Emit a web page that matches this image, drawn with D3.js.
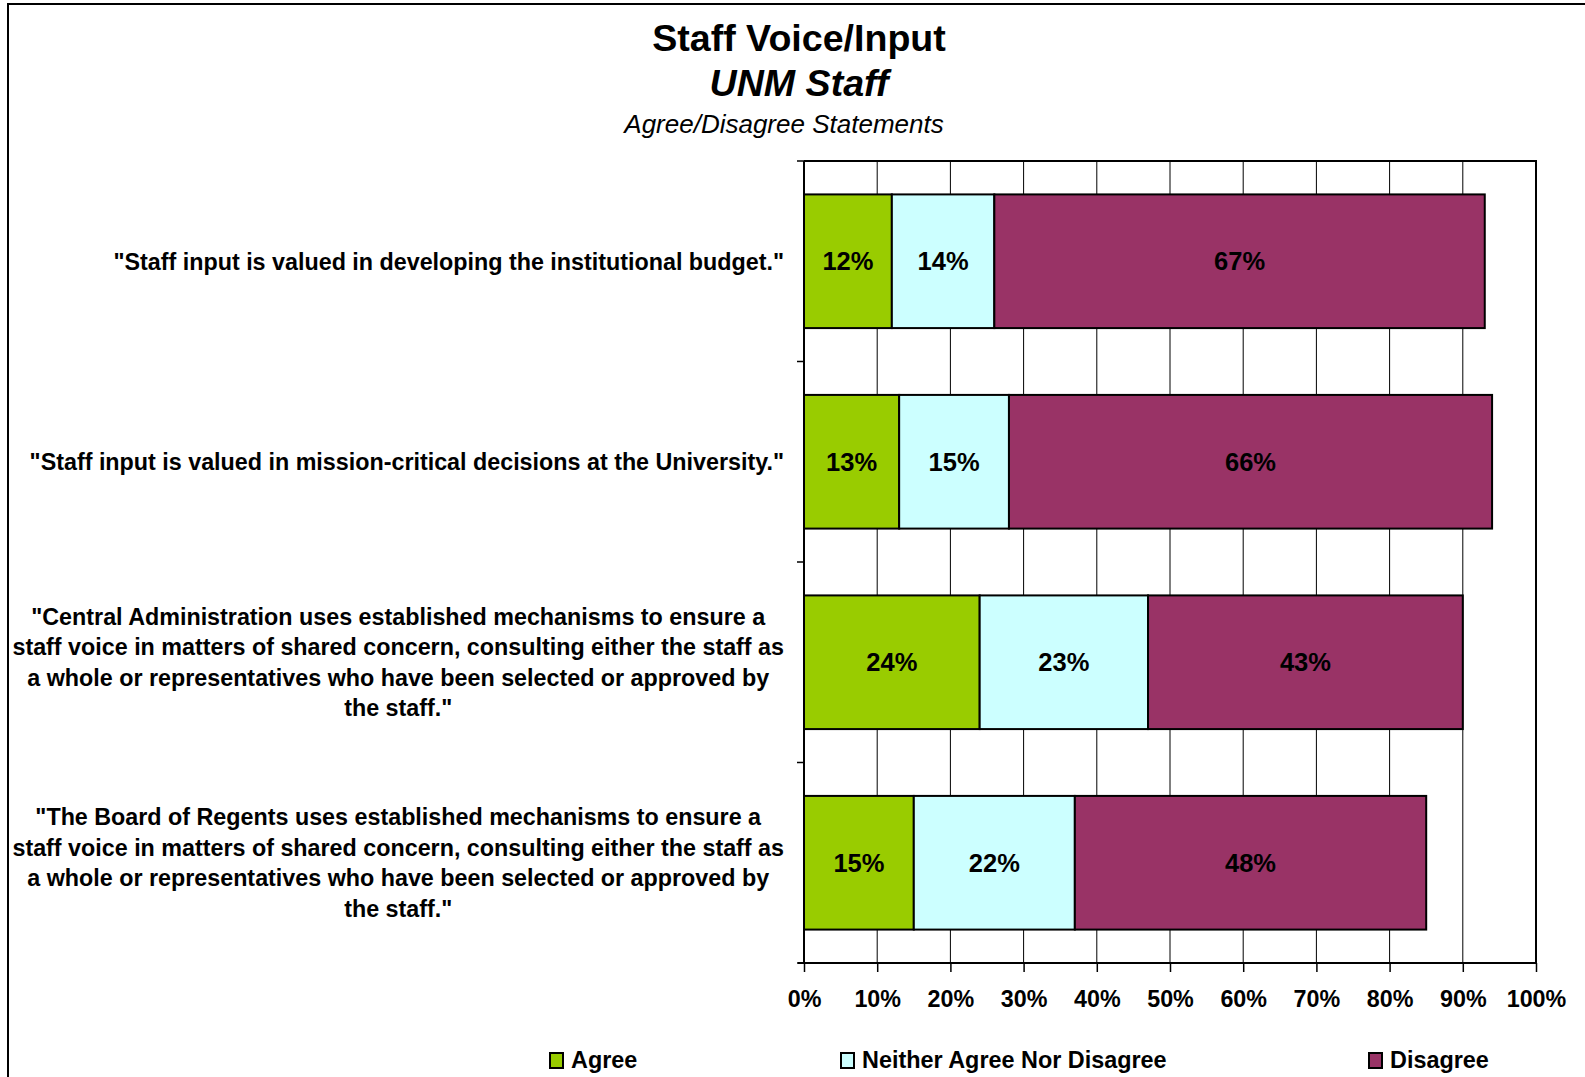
<!DOCTYPE html>
<html>
<head>
<meta charset="utf-8">
<script src="https://cdn.jsdelivr.net/npm/d3@7"></script>
<style>
  body { margin: 0; background: #fff; }
  svg { display: block; font-family: "Liberation Sans", Arial, sans-serif; }
</style>
</head>
<body>
<svg id="chart" width="1585" height="1077"></svg>
<script>
// data
var statements = [
  ['"Staff input is valued in developing the institutional budget."'],
  ['"Staff input is valued in mission-critical decisions at the University."'],
  ['"Central Administration uses established mechanisms to ensure a',
   'staff voice in matters of shared concern, consulting either the staff as',
   'a whole or representatives who have been selected or approved by',
   'the staff."'],
  ['"The Board of Regents uses established mechanisms to ensure a',
   'staff voice in matters of shared concern, consulting either the staff as',
   'a whole or representatives who have been selected or approved by',
   'the staff."']
];
var seriesNames = ['Agree', 'Neither Agree Nor Disagree', 'Disagree'];
var agree    = [12, 13, 24, 15];
var neither  = [14, 15, 23, 22];
var disagree = [67, 66, 43, 48];
var xTicks = [0, 10, 20, 30, 40, 50, 60, 70, 80, 90, 100];

var colors = ['#99cc00', '#ccffff', '#993366'];

var svg = d3.select('#chart');
var width = 1585, height = 1077;
var plotL = 804, plotR = 1536, plotT = 161, plotB = 963;

// frame of the chart area
svg.append('path')
    .attr('d', 'M8,' + height + 'V4H' + width)
    .attr('fill', 'none').attr('stroke', '#000').attr('stroke-width', 2);

// titles
svg.append('text').attr('x', 799).attr('y', 51).attr('text-anchor', 'middle')
    .attr('font-size', 37.6).attr('font-weight', 'bold').text('Staff Voice/Input');
svg.append('text').attr('x', 799).attr('y', 96).attr('text-anchor', 'middle')
    .attr('font-size', 37.6).attr('font-weight', 'bold').attr('font-style', 'italic').text('UNM Staff');
svg.append('text').attr('x', 784).attr('y', 133).attr('text-anchor', 'middle')
    .attr('font-size', 26).attr('font-style', 'italic').text('Agree/Disagree Statements');

var rows = statements.map(function(s, i) {
  return { id: i, agree: agree[i], neither: neither[i], disagree: disagree[i] };
});

var x = d3.scaleLinear().domain([0, 100]).range([plotL, plotR]);
var y = d3.scaleBand().domain(d3.range(statements.length)).range([plotT, plotB])
    .paddingInner(1/3).paddingOuter(1/6);

// grid lines
svg.append('g').selectAll('line').data(xTicks.slice(1, -1)).join('line')
    .attr('x1', function(d) { return x(d); }).attr('x2', function(d) { return x(d); })
    .attr('y1', plotT).attr('y2', plotB)
    .attr('stroke', '#000').attr('stroke-width', 1);

// plot border (top, right)
svg.append('path')
    .attr('d', 'M' + plotL + ',' + plotT + 'H' + plotR + 'V' + plotB)
    .attr('fill', 'none').attr('stroke', '#000').attr('stroke-width', 2);

// stacked bars
var stack = d3.stack().keys(['agree', 'neither', 'disagree']);
var layers = stack(rows);

var g = svg.append('g');
layers.forEach(function(layer, k) {
  g.selectAll('rect.s' + k).data(layer).join('rect')
      .attr('class', 's' + k)
      .attr('x', function(d) { return x(d[0]); })
      .attr('y', function(d) { return y(d.data.id); })
      .attr('width', function(d) { return x(d[1]) - x(d[0]); })
      .attr('height', y.bandwidth())
      .attr('fill', colors[k])
      .attr('stroke', '#000').attr('stroke-width', 2);
  g.selectAll('text.s' + k).data(layer).join('text')
      .attr('class', 's' + k)
      .attr('x', function(d) { return (x(d[0]) + x(d[1])) / 2; })
      .attr('y', function(d) { return y(d.data.id) + y.bandwidth() / 2; })
      .attr('dy', '0.36em')
      .attr('text-anchor', 'middle')
      .attr('font-size', 25.5).attr('font-weight', 'bold')
      .text(function(d) { return (d[1] - d[0]) + '%'; });
});

// x axis
var xAxis = d3.axisBottom(x).tickValues(xTicks).tickSize(9).tickPadding(18)
    .tickFormat(function(d) { return d + '%'; });
svg.append('g').attr('transform', 'translate(0,' + plotB + ')').call(xAxis)
    .call(function(sel) {
      sel.select('.domain').attr('d', 'M' + (plotL - 6) + ',0H' + plotR).attr('stroke-width', 2);
      sel.selectAll('.tick line').attr('stroke-width', 1.5);
      sel.selectAll('.tick text').attr('font-size', 23.3).attr('font-weight', 'bold')
          .attr('font-family', '"Liberation Sans", Arial, sans-serif').attr('fill', '#000');
    });

// y axis: boundary ticks between categories
var step = y.step();
var yAxisG = svg.append('g');
yAxisG.append('line').attr('x1', plotL).attr('x2', plotL).attr('y1', plotT).attr('y2', plotB)
    .attr('stroke', '#000').attr('stroke-width', 2);
yAxisG.selectAll('line.tk').data(d3.range(statements.length + 1)).join('line')
    .attr('class', 'tk')
    .attr('x1', plotL - 7).attr('x2', plotL)
    .attr('y1', function(i) { return plotT + i * step; })
    .attr('y2', function(i) { return plotT + i * step; })
    .attr('stroke', '#000').attr('stroke-width', 1.5);

// category labels: lines centered in a block right-aligned to the axis
var lineH = 30.5;
statements.forEach(function(lines, i) {
  var t = svg.append('text').attr('font-size', 23.3).attr('font-weight', 'bold')
      .attr('text-anchor', 'middle');
  var spans = lines.map(function(l) { return t.append('tspan').text(l); });
  var maxW = d3.max(spans, function(s) { return s.node().getComputedTextLength(); });
  var cx = plotL - 20 - maxW / 2;
  var cy = y(i) + y.bandwidth() / 2;
  spans.forEach(function(s, j) {
    s.attr('x', cx).attr('y', cy + (j - (lines.length - 1) / 2) * lineH).attr('dy', '0.36em');
  });
});

// legend
var legendX = [550, 841, 1369];
var legend = svg.append('g');
seriesNames.forEach(function(name, k) {
  legend.append('rect').attr('x', legendX[k]).attr('y', 1053).attr('width', 13).attr('height', 15)
      .attr('fill', colors[k]).attr('stroke', '#000').attr('stroke-width', 2);
  legend.append('text').attr('x', legendX[k] + 21).attr('y', 1060).attr('dy', '0.36em')
      .attr('font-size', 23.4).attr('font-weight', 'bold').text(name);
});
</script>
</body>
</html>
